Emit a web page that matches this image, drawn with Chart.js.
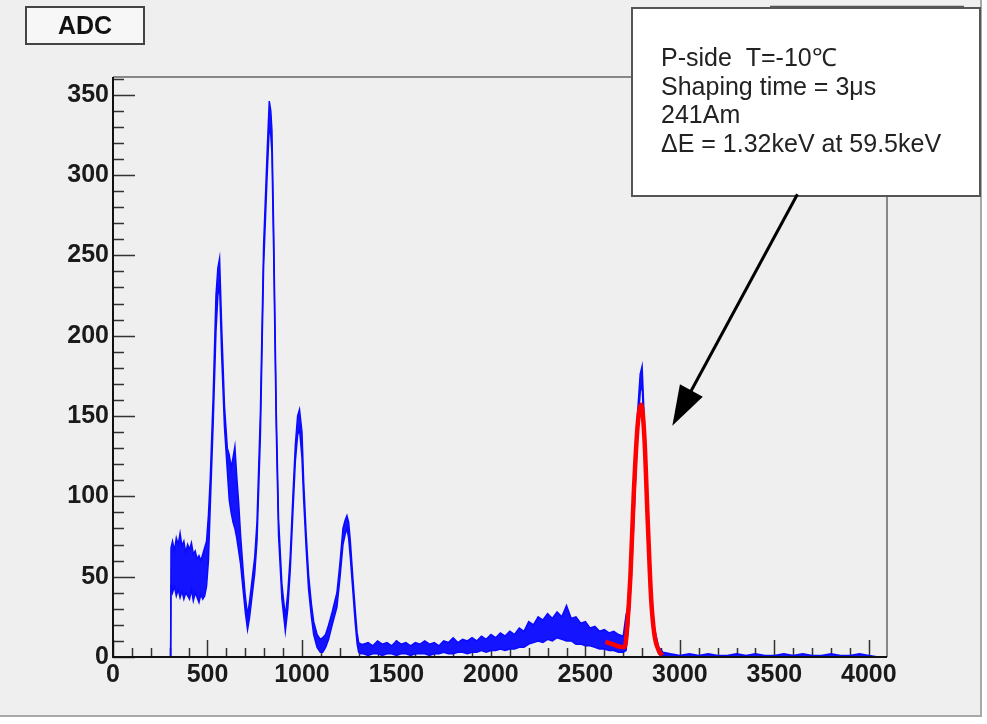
<!DOCTYPE html>
<html>
<head>
<meta charset="utf-8">
<script src="https://cdn.jsdelivr.net/npm/chart.js@4.4.1/dist/chart.umd.min.js"></script>
<style>
  html, body { margin: 0; padding: 0; background: #fff; }
  #wrap { width: 987px; height: 724px; position: relative; }
</style>
</head>
<body>
<div id="wrap"><canvas id="adcChart"></canvas></div>
<script>
// ADC channel (x) with lower / upper edge of the noisy histogram band
const adcX = [305, 307, 315, 325, 335, 345, 355, 365, 375, 385, 395, 405, 415, 425, 435, 445, 455, 465, 475, 485, 495, 505,
  515, 530, 545, 555, 564, 575, 590, 605, 615, 625, 635, 645, 655, 665, 675, 690, 700, 712, 722, 735, 750, 762, 780, 797,
  815, 827, 835, 841, 850, 864, 876, 894, 912, 925, 938, 952, 965, 977, 987, 1000, 1009, 1022, 1035, 1050, 1062, 1080,
  1097, 1110, 1125, 1141, 1160, 1185, 1200, 1217, 1228, 1238, 1247, 1256, 1270, 1282, 1292, 1300, 1312,
  1325, 1350, 1375, 1400, 1425, 1450, 1475, 1500, 1525, 1550, 1575, 1600, 1625, 1650, 1675, 1700, 1725, 1750, 1775, 1800,
  1825, 1850, 1875, 1900, 1925, 1950, 1975, 2000, 2025, 2050, 2075, 2100, 2125, 2150, 2175, 2200, 2225, 2250, 2275, 2300,
  2325, 2350, 2375, 2400, 2425, 2450, 2475, 2500, 2525, 2550, 2575, 2600, 2625, 2650, 2675, 2700,
  2715, 2730, 2745, 2760, 2775, 2790, 2800, 2812, 2830, 2848, 2865, 2888, 2910,
  2950, 3000, 3050, 3100, 3150, 3200, 3250, 3300, 3350, 3400, 3450, 3500, 3550, 3600, 3650, 3700, 3750, 3800, 3850, 3900,
  3950, 4000, 4050];
const adcLo = [0, 45, 40, 44, 38, 42, 37, 41, 36, 40, 38, 36, 42, 35, 40, 37, 34, 39, 36, 38, 44, 60,
  95, 145, 203, 225, 232, 188, 143, 116, 98, 90, 84, 80, 74, 66, 58, 40, 28, 17, 24, 37, 52, 72, 138, 243,
  298, 330, 325, 314, 254, 142, 76, 36, 16, 30, 54, 90, 122, 138, 142, 124, 98, 68, 42, 25, 14, 6,
  3, 3, 6, 11, 20, 31, 48, 70, 76, 80, 74, 62, 40, 21, 8, 3, 2,
  2, 1, 2, 2, 1, 2, 2, 1, 2, 2, 1, 2, 2, 2, 1, 2, 2, 3, 2, 2,
  3, 3, 2, 3, 3, 4, 3, 4, 4, 5, 4, 5, 5, 6, 6, 8, 9, 10, 9, 11,
  10, 12, 11, 10, 10, 8, 8, 7, 7, 6, 5, 5, 4, 4, 3, 3,
  4, 22, 55, 95, 138, 165, 170, 135, 80, 32, 12, 2, 0,
  0, 0, 0, 0, 0, 0, 0, 0, 0, 0, 0, 0, 0, 0, 0, 0, 0, 0, 0, 0,
  0, 0, 0];
const adcHi = [0, 68, 72, 66, 74, 70, 77, 69, 72, 65, 70, 67, 71, 64, 66, 61, 63, 60, 64, 68, 72, 88,
  112, 162, 225, 242, 248, 206, 156, 130, 126, 118, 124, 131, 112, 96, 76, 52, 38, 26, 34, 47, 62, 84, 152, 256,
  312, 346, 340, 328, 267, 153, 86, 45, 25, 40, 63, 100, 132, 150, 154, 140, 109, 77, 51, 33, 22, 14,
  11, 12, 14, 20, 28, 40, 57, 80, 85, 88, 84, 72, 48, 29, 15, 9, 8,
  8, 9, 7, 10, 8, 9, 7, 10, 8, 9, 7, 9, 8, 10, 8, 9, 7, 10, 9, 12,
  9, 11, 10, 12, 10, 13, 11, 14, 12, 15, 13, 16, 14, 18, 16, 22, 20, 25, 23, 27,
  24, 28, 25, 32, 24, 25, 21, 22, 18, 19, 16, 17, 15, 16, 14, 13,
  26, 34, 66, 108, 150, 176, 181, 146, 90, 40, 18, 6, 3,
  2, 1, 2, 1, 2, 1, 1, 2, 1, 2, 1, 1, 2, 1, 2, 1, 1, 2, 1, 1,
  2, 1, 0];

// Gaussian fit of the 59.5 keV line (red)
const fitX = [2606, 2630, 2655, 2680, 2703, 2712, 2720, 2738, 2756, 2777, 2795, 2812, 2830, 2848, 2865, 2888, 2906];
const fitY = [9.5, 8.5, 7.5, 6.5, 6, 8, 17, 50, 102, 145, 157, 137, 84, 36, 14, 4, 1];

const xTickLabels = [0, 500, 1000, 1500, 2000, 2500, 3000, 3500, 4000];
const yTickLabels = [0, 50, 100, 150, 200, 250, 300, 350];
const infoLines = ['P-side  T=-10\u2103', 'Shaping time = 3\u03bcs', '241Am', '\u0394E = 1.32keV at 59.5keV'];

const pts = (xs, ys) => xs.map((x, i) => ({ x: x, y: ys[i] }));
const FONT = '"Liberation Sans", Arial, Helvetica, sans-serif';

const rootStyle = {
  id: 'rootStyle',
  beforeDraw(chart) {
    const c = chart.ctx;
    c.save();
    c.fillStyle = '#ffffff';
    c.fillRect(0, 0, chart.width, chart.height);
    c.fillStyle = '#efefef';
    c.fillRect(0, 0, 981, 716);
    c.strokeStyle = '#a8a8a8';
    c.lineWidth = 2;
    c.beginPath();
    c.moveTo(981, 0); c.lineTo(981, 716); c.lineTo(0, 716);
    c.stroke();
    c.restore();
  },
  beforeDatasetsDraw(chart) {
    const c = chart.ctx, a = chart.chartArea;
    const xs = chart.scales.x, ys = chart.scales.y;
    c.save();
    c.strokeStyle = '#333';
    c.lineWidth = 1.5;
    c.beginPath();
    for (let v = 0; v <= 4000; v += 100) {
      const px = Math.round(xs.getPixelForValue(v)) + 0.5;
      const len = v % 500 === 0 ? 17 : 9;
      c.moveTo(px, a.bottom); c.lineTo(px, a.bottom - len);
    }
    for (let v = 0; v <= 360; v += 10) {
      const py = Math.round(ys.getPixelForValue(v)) + 0.5;
      const len = v % 50 === 0 ? 22 : 11;
      c.moveTo(a.left, py); c.lineTo(a.left + len, py);
    }
    c.stroke();
    // frame top and right
    c.strokeStyle = '#666';
    c.lineWidth = 1.5;
    c.beginPath();
    c.moveTo(a.left, a.top); c.lineTo(a.right, a.top); c.lineTo(a.right, a.bottom);
    c.stroke();
    c.restore();
  },
  afterDraw(chart) {
    const c = chart.ctx, a = chart.chartArea;
    const xs = chart.scales.x, ys = chart.scales.y;
    c.save();
    // axes
    c.strokeStyle = '#111';
    c.lineWidth = 2;
    c.beginPath();
    c.moveTo(a.left, a.top); c.lineTo(a.left, a.bottom); c.lineTo(a.right, a.bottom);
    c.stroke();

    // title box
    c.fillStyle = '#f7f7f7';
    c.fillRect(26, 7, 118, 37);
    c.strokeStyle = '#444';
    c.lineWidth = 2;
    c.strokeRect(26, 7, 118, 37);
    c.fillStyle = '#111';
    c.font = 'bold 25px ' + FONT;
    c.textAlign = 'center';
    c.textBaseline = 'middle';
    c.fillText('ADC', 85, 27);

    // line behind the info box
    c.strokeStyle = '#555';
    c.lineWidth = 1.5;
    c.beginPath();
    c.moveTo(770, 6.5); c.lineTo(964, 6.5);
    c.stroke();

    // info box
    c.fillStyle = '#ffffff';
    c.fillRect(632, 8, 348, 188);
    c.strokeStyle = '#555';
    c.lineWidth = 2;
    c.strokeRect(632, 8, 348, 188);
    c.fillStyle = '#222';
    c.font = '25px ' + FONT;
    c.textAlign = 'left';
    c.textBaseline = 'alphabetic';
    infoLines.forEach((t, i) => c.fillText(t, 661, 66 + i * 28.5));

    // arrow pointing at the fitted peak
    const x0 = xs.getPixelForValue(3622), y0 = ys.getPixelForValue(288);
    const x1 = xs.getPixelForValue(2960), y1 = ys.getPixelForValue(144);
    const ang = Math.atan2(y1 - y0, x1 - x0);
    c.strokeStyle = '#000';
    c.fillStyle = '#000';
    c.lineWidth = 3;
    c.beginPath();
    c.moveTo(x0, y0);
    c.lineTo(x1 - 30 * Math.cos(ang), y1 - 30 * Math.sin(ang));
    c.stroke();
    c.beginPath();
    c.moveTo(x1, y1);
    c.lineTo(x1 - 40 * Math.cos(ang) + 13 * Math.sin(ang), y1 - 40 * Math.sin(ang) - 13 * Math.cos(ang));
    c.lineTo(x1 - 40 * Math.cos(ang) - 13 * Math.sin(ang), y1 - 40 * Math.sin(ang) + 13 * Math.cos(ang));
    c.closePath();
    c.fill();
    c.restore();
  }
};

new Chart(document.getElementById('adcChart').getContext('2d'), {
  type: 'line',
  data: {
    datasets: [
      {
        label: 'fit',
        data: pts(fitX, fitY),
        borderColor: '#ff0000',
        borderWidth: 4.5,
        pointRadius: 0,
        cubicInterpolationMode: 'monotone',
        fill: false
      },
      {
        label: 'lo',
        data: pts(adcX, adcLo),
        borderColor: '#0a0aff',
        borderWidth: 1.5,
        pointRadius: 0,
        tension: 0,
        fill: false
      },
      {
        label: 'hi',
        data: pts(adcX, adcHi),
        borderColor: '#0a0aff',
        backgroundColor: '#1414ff',
        borderWidth: 1.5,
        pointRadius: 0,
        tension: 0,
        fill: '-1'
      }
    ]
  },
  options: {
    responsive: true,
    maintainAspectRatio: false,
    animation: false,
    devicePixelRatio: 1,
    layout: { padding: { left: 0, right: 100, top: 77, bottom: 0 } },
    plugins: {
      legend: { display: false },
      tooltip: { enabled: false },
      filler: { propagate: false }
    },
    scales: {
      x: {
        type: 'linear',
        min: 0,
        max: 4096,
        grid: { display: false, drawTicks: false },
        border: { display: false },
        afterFit: s => { s.height = 67; },
        afterBuildTicks: s => { s.ticks = xTickLabels.map(v => ({ value: v })); },
        ticks: {
          padding: 3,
          maxRotation: 0,
          autoSkip: false,
          color: '#1a1a1a',
          callback: v => String(v),
          font: { family: FONT, size: 25, weight: 'bold' }
        }
      },
      y: {
        type: 'linear',
        min: 0,
        max: 361,
        grid: { display: false, drawTicks: false },
        border: { display: false },
        afterFit: s => { s.width = 113; },
        afterBuildTicks: s => { s.ticks = yTickLabels.map(v => ({ value: v })); },
        ticks: {
          padding: 4,
          autoSkip: false,
          color: '#1a1a1a',
          callback: v => String(v),
          font: { family: FONT, size: 25, weight: 'bold' }
        }
      }
    }
  },
  plugins: [rootStyle]
});
</script>
</body>
</html>
